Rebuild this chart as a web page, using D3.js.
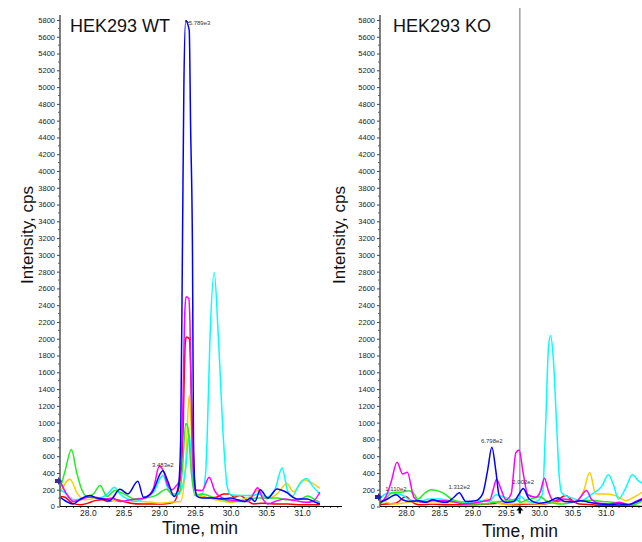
<!DOCTYPE html>
<html>
<head>
<meta charset="utf-8">
<script src="https://cdn.jsdelivr.net/npm/d3@7"></script>
<style>
  html, body { margin: 0; padding: 0; background: #fff; }
  svg { display: block; font-family: "Liberation Sans", Arial, sans-serif; }
</style>
</head>
<body>
<svg id="chart" width="642" height="542"></svg>
<script>
// ---------------- DATA ----------------
const timeDomain = [27.61, 31.56];
const yMax = 5800;
const yTickValues = d3.range(0, 5801, 200);
const xTickValues = [28.0, 28.5, 29.0, 29.5, 30.0, 30.5, 31.0];
const panelTitles = ["HEK293 WT", "HEK293 KO"];
const seriesOrder = ["red", "yellow", "cyan", "green", "magenta", "blue"];
const seriesColors = ["#ff0000", "#ffcc00", "#00ffff", "#22ee22", "#ff00ff", "#0000ff"];

// WT traces: [time (min), intensity (cps)]
const wtRed = [[27.615,120],[27.68,110],[27.78,40],[27.90,20],[28.00,40],[28.10,70],[28.20,80],[28.28,60],[28.40,80],[28.50,60],[28.60,40],[28.75,30],[28.90,30],[29.05,30],[29.20,50],[29.29,300],[29.33,790],[29.365,1950],[29.38,2020],[29.42,2000],[29.47,790],[29.51,150],[29.60,120],[29.70,100],[29.80,110],[29.90,150],[29.98,150],[30.05,110],[30.13,130],[30.25,60],[30.32,30],[30.45,40],[30.60,30],[30.80,30],[31.00,20],[31.25,20]];
const wtYellow = [[27.615,170],[27.75,325],[27.85,160],[27.95,80],[28.05,90],[28.15,100],[28.30,80],[28.45,60],[28.60,70],[28.75,60],[28.90,50],[29.00,40],[29.15,50],[29.30,60],[29.37,500],[29.42,1330],[29.47,500],[29.52,150],[29.60,120],[29.70,100],[29.85,70],[30.00,50],[30.15,80],[30.28,120],[30.37,190],[30.50,90],[30.65,150],[30.79,275],[30.88,175],[31.02,320],[31.12,290],[31.25,215]];
const wtCyan = [[27.615,200],[27.70,150],[27.80,80],[27.90,90],[28.00,130],[28.10,100],[28.20,110],[28.30,170],[28.37,230],[28.45,150],[28.55,90],[28.65,60],[28.80,100],[28.92,170],[29.05,370],[29.12,220],[29.20,150],[29.26,160],[29.31,200],[29.37,450],[29.42,860],[29.47,300],[29.53,140],[29.60,150],[29.65,400],[29.67,790],[29.71,1985],[29.77,2790],[29.83,1985],[29.90,790],[29.95,250],[30.00,140],[30.15,130],[30.30,130],[30.40,150],[30.50,110],[30.62,200],[30.72,460],[30.80,180],[30.86,120],[30.96,260],[31.06,335],[31.15,240],[31.25,150]];
const wtGreen = [[27.615,220],[27.68,420],[27.77,680],[27.84,420],[27.90,236],[27.99,118],[28.08,150],[28.17,250],[28.27,120],[28.38,190],[28.45,170],[28.55,130],[28.65,90],[28.80,100],[28.95,130],[29.10,205],[29.20,130],[29.28,150],[29.33,500],[29.37,990],[29.40,950],[29.45,400],[29.50,130],[29.60,150],[29.75,110],[29.90,80],[30.00,60],[30.20,60],[30.35,100],[30.50,100],[30.65,100],[30.80,80],[30.95,80],[31.08,125],[31.18,80],[31.25,50]];
const wtMagenta = [[27.615,300],[27.70,150],[27.80,60],[27.90,80],[28.00,110],[28.10,110],[28.25,90],[28.35,100],[28.45,60],[28.60,80],[28.80,100],[28.92,220],[29.00,480],[29.06,420],[29.12,250],[29.18,200],[29.24,250],[29.28,300],[29.32,790],[29.36,2350],[29.375,2500],[29.415,2480],[29.43,2200],[29.46,790],[29.50,200],[29.60,190],[29.70,350],[29.78,180],[29.87,110],[29.95,80],[30.10,70],[30.25,60],[30.38,225],[30.45,90],[30.52,30],[30.62,60],[30.75,90],[30.90,70],[31.05,50],[31.15,60],[31.25,170]];
const wtBlue = [[27.615,110],[27.70,60],[27.79,30],[27.90,90],[28.03,130],[28.12,100],[28.20,90],[28.31,75],[28.45,205],[28.56,150],[28.70,300],[28.78,110],[28.90,170],[29.05,425],[29.12,300],[29.21,120],[29.27,250],[29.30,790],[29.326,3180],[29.345,5000],[29.37,5789],[29.42,5680],[29.44,4500],[29.466,3000],[29.48,790],[29.50,250],[29.53,120],[29.60,100],[29.75,100],[29.88,90],[30.00,100],[30.10,80],[30.20,60],[30.28,100],[30.34,60],[30.415,200],[30.52,100],[30.65,210],[30.78,170],[30.93,90],[31.07,90],[31.16,60],[31.25,30]];

// KO traces
const koRed = [[27.61,20],[27.70,30],[27.85,40],[28.00,120],[28.08,60],[28.20,20],[28.40,30],[28.60,20],[28.80,20],[29.00,20],[29.20,30],[29.40,40],[29.60,20],[29.80,30],[30.00,30],[30.15,40],[30.28,80],[30.40,130],[30.50,70],[30.60,30],[30.80,20],[31.00,10],[31.30,10],[31.56,0]];
const koYellow = [[27.61,80],[27.68,60],[27.80,30],[27.95,40],[28.10,60],[28.25,50],[28.40,40],[28.60,40],[28.80,60],[29.00,50],[29.15,70],[29.22,90],[29.30,60],[29.45,30],[29.60,30],[29.80,40],[30.00,30],[30.20,50],[30.40,60],[30.55,60],[30.67,190],[30.76,405],[30.85,150],[31.00,150],[31.15,130],[31.30,70],[31.42,110],[31.56,175]];
const koCyan = [[27.61,90],[27.67,140],[27.75,160],[27.88,150],[27.98,120],[28.05,80],[28.20,60],[28.35,90],[28.50,90],[28.65,70],[28.80,60],[28.95,50],[29.10,70],[29.25,60],[29.35,140],[29.45,120],[29.55,90],[29.65,70],[29.72,120],[29.80,70],[29.90,50],[30.00,80],[30.05,150],[30.10,1020],[30.14,1895],[30.17,2035],[30.21,1800],[30.26,1020],[30.30,380],[30.34,160],[30.42,120],[30.50,100],[30.62,70],[30.80,150],[30.94,240],[31.04,378],[31.12,250],[31.19,90],[31.30,220],[31.40,378],[31.50,300],[31.56,280]];
const koGreen = [[27.61,30],[27.68,80],[27.80,167],[27.92,170],[28.05,187],[28.12,150],[28.18,87],[28.27,150],[28.375,200],[28.55,165],[28.68,90],[28.80,50],[28.95,30],[29.10,30],[29.25,40],[29.40,60],[29.55,70],[29.65,90],[29.72,50],[29.82,80],[29.92,100],[30.02,115],[30.10,70],[30.22,40],[30.35,30],[30.50,50],[30.65,70],[30.80,75],[30.95,60],[31.10,50],[31.25,30],[31.40,20],[31.56,70]];
const koMagenta = [[27.61,40],[27.70,120],[27.78,300],[27.865,528],[27.95,388],[28.02,408],[28.12,108],[28.25,50],[28.40,70],[28.55,70],[28.70,60],[28.85,30],[29.00,40],[29.15,60],[29.26,80],[29.31,200],[29.36,326],[29.43,200],[29.50,80],[29.58,150],[29.65,640],[29.70,675],[29.76,400],[29.83,140],[29.95,110],[30.02,180],[30.08,338],[30.14,180],[30.20,80],[30.28,60],[30.36,90],[30.45,80],[30.55,50],[30.62,110],[30.71,190],[30.79,80],[30.90,40],[31.05,30],[31.20,50],[31.35,20],[31.45,60],[31.56,100]];
const koBlue = [[27.61,50],[27.70,80],[27.85,140],[27.95,80],[28.05,60],[28.20,70],[28.30,50],[28.40,80],[28.50,60],[28.60,50],[28.72,110],[28.80,165],[28.90,60],[29.05,70],[29.15,147],[29.225,425],[29.29,705],[29.35,425],[29.40,127],[29.50,50],[29.62,60],[29.70,150],[29.76,215],[29.85,90],[30.00,40],[30.15,60],[30.28,105],[30.38,60],[30.50,55],[30.62,70],[30.75,50],[30.90,30],[31.05,25],[31.20,30],[31.35,25],[31.45,50],[31.56,90]];

const wtSeries = [wtRed, wtYellow, wtCyan, wtGreen, wtMagenta, wtBlue];
const koSeries = [koRed, koYellow, koCyan, koGreen, koMagenta, koBlue];

// peak annotations: [time, intensity, text]
const wtPeakLabels = [[29.37, 5789, "5.789e3"], [29.05, 425, "3.483e2"]];
const koPeakLabels = [[27.85, 140, "1.110e2"], [28.80, 165, "1.312e2"], [29.29, 705, "6.798e2"], [29.76, 215, "2.002e2"]];
const koCursorTime = 29.71;

// ---------------- LAYOUT ----------------
const svg = d3.select("#chart");
const panels = [
  { series: wtSeries, labels: wtPeakLabels, left: 60, right: 342, titleX: 70, yTitleX: 33, xTitleY: 534, xTitleX: 200, cursor: null, markerY: 481 },
  { series: koSeries, labels: koPeakLabels, left: 380, right: 643, titleX: 393, yTitleX: 345, xTitleY: 537, xTitleX: 520, cursor: koCursorTime, markerY: 497 }
];
const yBottom = 506.5, yTopVal = 20, axisTop = 15;

panels.forEach((p, pi) => {
  const g = svg.append("g");
  const x = d3.scaleLinear().domain(timeDomain).range([p.left, p.right]);
  const y = d3.scaleLinear().domain([0, yMax]).range([yBottom, yTopVal]);

  // clip
  const clipId = "clip" + pi;
  svg.append("clipPath").attr("id", clipId).append("rect")
    .attr("x", p.left).attr("y", 0).attr("width", p.right - p.left).attr("height", yBottom);

  // cursor line
  if (p.cursor !== null) {
    g.append("line").attr("x1", x(p.cursor)).attr("x2", x(p.cursor))
      .attr("y1", 8).attr("y2", yBottom).attr("stroke", "#a0a0a0").attr("stroke-width", 1.5);
  }

  // traces
  const line = d3.line().x(d => x(d[0])).y(d => y(d[1])).curve(d3.curveMonotoneX);
  const lg = g.append("g").attr("clip-path", `url(#${clipId})`);
  p.series.forEach((s, i) => {
    lg.append("path").datum(s).attr("d", line)
      .attr("fill", "none").attr("stroke", seriesColors[i])
      .attr("stroke-width", 1.5).attr("stroke-linejoin", "round");
  });

  // y axis
  const yAxis = d3.axisLeft(y).tickValues(yTickValues).tickSize(3).tickPadding(2).tickFormat(d3.format("d"));
  const ya = g.append("g").attr("transform", `translate(${p.left},0)`).call(yAxis);
  ya.select(".domain").remove();
  ya.selectAll("text").attr("font-size", 7.5).attr("fill", "#222").attr("font-family", "Liberation Sans, Arial, sans-serif");
  ya.selectAll(".tick line").attr("stroke", "#444");
  g.selectAll(".yminor" + pi).data(d3.range(100, yMax, 200)).enter().append("line")
    .attr("x1", p.left - 2).attr("x2", p.left).attr("y1", d => y(d)).attr("y2", d => y(d)).attr("stroke", "#666");
  g.append("line").attr("x1", p.left).attr("x2", p.left).attr("y1", axisTop).attr("y2", yBottom)
    .attr("stroke", "#555").attr("stroke-width", 1.5);

  // x axis
  const xAxis = d3.axisBottom(x).tickValues(xTickValues).tickSize(2).tickPadding(1.5).tickFormat(d3.format(".1f"));
  const xa = g.append("g").attr("transform", `translate(0,${yBottom})`).call(xAxis);
  xa.select(".domain").remove();
  xa.selectAll("text").attr("font-size", 8.5).attr("fill", "#222").attr("font-family", "Liberation Sans, Arial, sans-serif");
  g.selectAll(".xminor" + pi).data(d3.range(276, 316).map(v => v / 10).filter(t => t > timeDomain[0] && t < timeDomain[1])).enter().append("line")
    .attr("x1", d => x(d)).attr("x2", d => x(d)).attr("y1", yBottom).attr("y2", yBottom + 1.5).attr("stroke", "#444");
  g.append("line").attr("x1", p.left).attr("x2", p.right).attr("y1", yBottom).attr("y2", yBottom)
    .attr("stroke", "#000").attr("stroke-width", 1.2);

  // titles
  g.append("text").attr("x", p.titleX).attr("y", 32).attr("font-size", 18).attr("fill", "#111").text(panelTitles[pi]);
  g.append("text").attr("transform", `translate(${p.yTitleX},235) rotate(-90)`).attr("text-anchor", "middle")
    .attr("font-size", 17).attr("fill", "#111").text("Intensity, cps");
  g.append("text").attr("x", p.xTitleX).attr("y", p.xTitleY).attr("text-anchor", "middle")
    .attr("font-size", 17.5).attr("fill", "#111").text("Time, min");

  // peak labels
  p.labels.forEach(l => {
    const big = l[1] > 3000;
    g.append("text").attr("x", big ? x(l[0]) + 3 : x(l[0])).attr("y", big ? y(l[1]) + 4 : y(l[1]) - 4)
      .attr("text-anchor", big ? "start" : "middle").attr("font-size", 6).attr("fill", "#333").text(l[2]);
    if (big) {
      g.append("line").attr("x1", x(l[0])).attr("y1", y(l[1]) - 1).attr("x2", x(l[0]) + 3).attr("y2", y(l[1]) + 2)
        .attr("stroke", "#000").attr("stroke-width", 1);
    }
  });

  // left-edge marker arrow
  const mx = p.left - 5, my = p.markerY;
  g.append("path").attr("d", `M${mx},${my - 2} L${mx + 3},${my - 2} L${mx + 3},${my - 4} L${mx + 7},${my} L${mx + 3},${my + 4} L${mx + 3},${my + 2} L${mx},${my + 2} Z`)
    .attr("fill", pi === 0 ? "#3a2a9a" : "#1a2a9a");

  // cursor bottom marker
  if (p.cursor !== null) {
    const cx = x(p.cursor), cy = yBottom + 1;
    g.append("path").attr("d", `M${cx},${cy - 1} L${cx + 3.5},${cy + 3} L${cx + 1.2},${cy + 3} L${cx + 1.2},${cy + 6} L${cx - 1.2},${cy + 6} L${cx - 1.2},${cy + 3} L${cx - 3.5},${cy + 3} Z`)
      .attr("fill", "#000");
  }
});
</script>
</body>
</html>
